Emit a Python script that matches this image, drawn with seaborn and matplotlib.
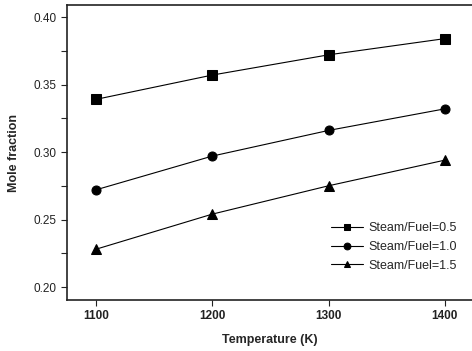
import matplotlib
matplotlib.use("Agg")
import matplotlib.pyplot as plt
import seaborn as sns
import pandas as pd
from matplotlib.ticker import MultipleLocator

temperature = [1100, 1200, 1300, 1400]
sf_05 = [0.339, 0.357, 0.372, 0.384]
sf_10 = [0.272, 0.297, 0.316, 0.332]
sf_15 = [0.228, 0.254, 0.275, 0.294]
labels = ["Steam/Fuel=0.5", "Steam/Fuel=1.0", "Steam/Fuel=1.5"]

rows = []
for lab, vals in zip(labels, [sf_05, sf_10, sf_15]):
    for t, v in zip(temperature, vals):
        rows.append({"T": t, "y": v, "series": lab})
df = pd.DataFrame(rows)

sns.set_style("ticks")
plt.rcParams["font.family"] = ["Liberation Sans", "DejaVu Sans"]

fig = plt.figure(figsize=(4.72, 3.51), dpi=100)
ax = fig.add_axes([67/472, 1 - 300/351, 1 - 67/472, (300 - 5)/351])

sns.lineplot(data=df, x="T", y="y", style="series", hue="series",
             palette=["black"]*3, markers=["s", "o", "^"], dashes=False,
             markersize=6.5, linewidth=0.8, markeredgecolor="black", ax=ax)

ax.set_xlim(1075.1, 1423.3)
ax.set_ylim(0.1904, 0.4089)
ax.set_xticks(temperature)
ax.yaxis.set_major_locator(MultipleLocator(0.05))
ax.yaxis.set_minor_locator(MultipleLocator(0.025))
ax.yaxis.set_major_formatter(matplotlib.ticker.FormatStrFormatter("%.2f"))
ax.tick_params(axis="both", direction="out", labelsize=8.5, width=0.8, length=4, colors="#222222")
ax.tick_params(axis="y", which="minor", length=4, width=0.8)
for lab in ax.get_xticklabels():
    lab.set_fontweight("bold")
ax.spines["right"].set_visible(False)
for s in ["left", "bottom", "top"]:
    ax.spines[s].set_linewidth(1.2)
    ax.spines[s].set_color("#222222")

ax.set_xlabel("Temperature (K)", fontsize=9, fontweight="bold", labelpad=8)
ax.set_ylabel("Mole fraction", fontsize=9, fontweight="bold", labelpad=10)

leg = ax.legend(loc="center right", bbox_to_anchor=(0.99, 0.18), frameon=False,
                fontsize=9, handlelength=2.6, handletextpad=0.4, labelspacing=0.55,
                markerscale=0.75)

fig.savefig("out.png", dpi=100)
